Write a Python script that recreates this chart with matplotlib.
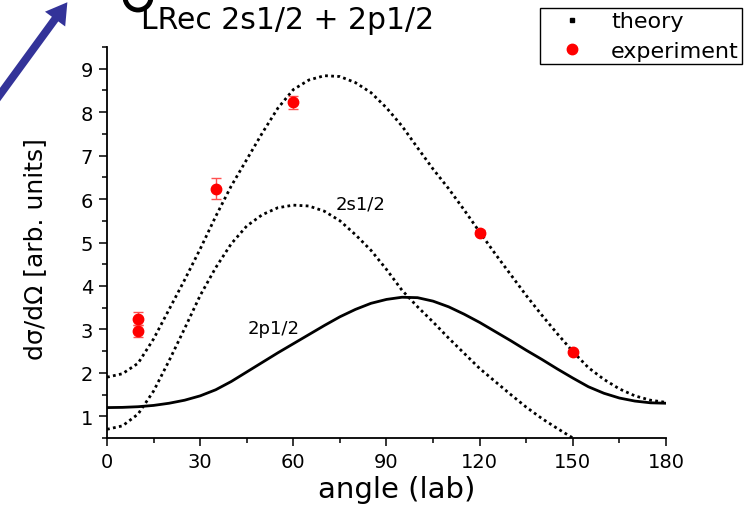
import matplotlib
matplotlib.use("Agg")
import matplotlib.pyplot as plt
from matplotlib.lines import Line2D
from matplotlib.patches import FancyArrowPatch, Arc
from matplotlib.ticker import MultipleLocator

# ---- data ----
angle = [0, 5, 10, 15, 20, 25, 30, 35, 40, 45, 50, 55, 60, 65, 70, 75, 80, 85, 90,
         95, 100, 105, 110, 115, 120, 125, 130, 135, 140, 145, 150, 155, 160, 165,
         170, 175, 180]
theory_total = [1.90, 1.98, 2.22, 2.78, 3.46, 4.14, 4.85, 5.60, 6.30, 6.91, 7.52,
                8.09, 8.52, 8.74, 8.84, 8.82, 8.68, 8.45, 8.10, 7.68, 7.18, 6.69,
                6.24, 5.75, 5.24, 4.74, 4.26, 3.78, 3.33, 2.90, 2.49, 2.12, 1.85,
                1.63, 1.47, 1.37, 1.32]
angle_2s = [0, 5, 10, 15, 20, 25, 30, 35, 40, 45, 50, 55, 60, 65, 70, 75, 80, 85,
            90, 95, 100, 105, 110, 115, 120, 125, 130, 135, 140, 145, 150]
theory_2s = [0.70, 0.78, 1.05, 1.58, 2.28, 3.02, 3.78, 4.42, 4.97, 5.38, 5.64, 5.80,
             5.86, 5.84, 5.72, 5.50, 5.18, 4.82, 4.38, 3.90, 3.52, 3.17, 2.80, 2.45,
             2.10, 1.80, 1.50, 1.21, 0.95, 0.72, 0.50]
theory_2p = [1.20, 1.205, 1.22, 1.25, 1.30, 1.37, 1.47, 1.61, 1.80, 2.02, 2.24, 2.46,
             2.67, 2.88, 3.09, 3.29, 3.46, 3.60, 3.69, 3.74, 3.73, 3.65, 3.52, 3.35,
             3.16, 2.95, 2.74, 2.52, 2.31, 2.09, 1.88, 1.68, 1.53, 1.42, 1.35, 1.31,
             1.30]
exp_angle = [10, 10, 35, 60, 120, 150]
exp_value = [3.25, 2.96, 6.24, 8.23, 5.23, 2.49]
exp_error = [0.14, 0.13, 0.24, 0.15, 0.05, 0.04]

x_ticks = [0, 30, 60, 90, 120, 150, 180]
y_ticks = [1, 2, 3, 4, 5, 6, 7, 8, 9]

plt.rcParams['font.family'] = ['DejaVu Sans']

fig = plt.figure(figsize=(7.5, 5.1), dpi=100)
ax = fig.add_axes([107/750, 1-439/510, (666-107)/750, (439-48)/510])

ax.plot(angle, theory_total, color='black', lw=2.0, linestyle=(0, (1, 1.2)))
ax.plot(angle_2s, theory_2s, color='black', lw=2.0, linestyle=(0, (1, 1.2)))
ax.plot(angle, theory_2p, color='black', lw=2.0, linestyle='-')

ax.errorbar(exp_angle, exp_value, yerr=exp_error, fmt='none', ecolor='#ff5050',
            elinewidth=1.0, capsize=3.5, capthick=1.0, zorder=4)
ax.plot(exp_angle, exp_value, 'o', color='#ff0000', ms=7.5, zorder=5)

ax.text(81.5, 5.9, '2s1/2', fontsize=13, ha='center', va='center')
ax.text(53.5, 3.04, '2p1/2', fontsize=13, ha='center', va='center')

ax.set_xlim(0, 180)
ax.set_ylim(0.5, 9.5)
ax.set_xticks(x_ticks)
ax.set_yticks(y_ticks)
ax.xaxis.set_minor_locator(MultipleLocator(15))
ax.yaxis.set_minor_locator(MultipleLocator(0.5))
ax.tick_params(which='major', direction='out', length=6, width=1.1, labelsize=14, pad=4)
ax.tick_params(which='minor', direction='out', length=3.5, width=1.1)
ax.spines['top'].set_visible(False)
ax.spines['right'].set_visible(False)
for s in ('left', 'bottom'):
    ax.spines[s].set_linewidth(1.3)

ax.set_xlabel('angle (lab)', fontsize=21)
ax.xaxis.set_label_coords((397-107)/559, (439-476)/391)
ax.set_ylabel('dσ/dΩ [arb. units]', fontsize=18)
ax.yaxis.set_label_coords((47-107)/559, (439-249)/391)

handles = [Line2D([], [], marker='s', ms=2.2, color='black', ls='none'),
           Line2D([], [], marker='o', ms=7.5, color='#ff0000', ls='none')]
leg = fig.legend(handles, ['theory', 'experiment'], loc='upper right',
                 bbox_to_anchor=(742/750, 1-9/510), fontsize=16, frameon=True,
                 fancybox=False, edgecolor='black', framealpha=1,
                 handlelength=2.6, handletextpad=0.45, borderpad=0.15,
                 labelspacing=0.43, borderaxespad=0)
leg.get_frame().set_linewidth(1.0)

fig.text(288/750, 1-29/510, 'LRec 2s1/2 + 2p1/2', fontsize=21.5, ha='center', va='baseline')

frag = Arc((138/750, 1+2/510), 26/750, 26/510, theta1=180, theta2=360,
           transform=fig.transFigure, color='black', lw=3.5)
fig.add_artist(frag)

arrow = FancyArrowPatch((-12/750, 1-112/510), (69/750, 1-1/510), transform=fig.transFigure,
                        arrowstyle='simple,head_length=1.0,head_width=1.2,tail_width=0.38',
                        mutation_scale=15, color='#333399', lw=0)
fig.add_artist(arrow)

fig.savefig('out.png', dpi=100)
